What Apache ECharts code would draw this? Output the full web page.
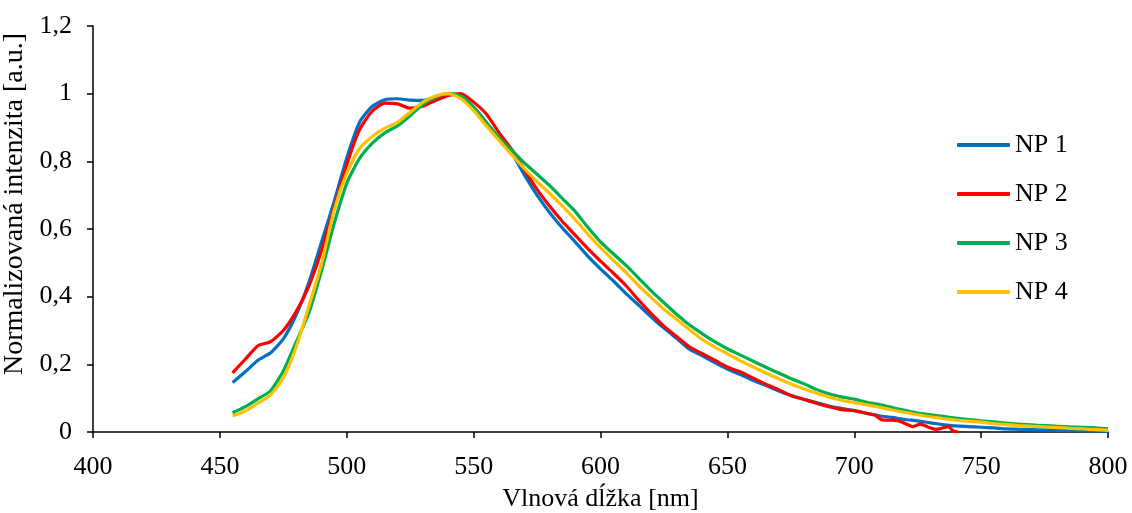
<!DOCTYPE html>
<html>
<head>
<meta charset="utf-8">
<script src="https://cdn.jsdelivr.net/npm/echarts@6/dist/echarts.min.js"></script>
<style>html,body{margin:0;padding:0;background:#fff;}#c{width:1132px;height:513px;}</style>
</head>
<body>
<div id="c"></div>
<script>
// Wavelengths (nm) shared by NP1, NP3, NP4
const wavelengths = [455,460,465,470,475,480,485,490,495,500,505,510,515,520,525,530,535,540,545,550,555,560,565,570,575,580,585,590,595,600,605,610,615,620,625,630,635,640,645,650,655,660,665,670,675,680,685,690,695,700,705,710,715,720,725,730,735,740,745,750,755,760,765,770,775,780,785,790,795,800];

const np1 = [0.146,0.178,0.212,0.234,0.275,0.345,0.44,0.56,0.68,0.81,0.915,0.962,0.982,0.985,0.981,0.980,0.990,1.0,0.99,0.96,0.915,0.868,0.825,0.76,0.70,0.648,0.603,0.562,0.52,0.482,0.447,0.41,0.375,0.34,0.307,0.277,0.245,0.226,0.205,0.186,0.17,0.153,0.138,0.122,0.108,0.097,0.087,0.077,0.070,0.063,0.055,0.048,0.043,0.037,0.033,0.027,0.022,0.018,0.016,0.014,0.012,0.009,0.008,0.007,0.006,0.005,0.004,0.004,0.003,0.002];

const np3 = [0.057,0.075,0.098,0.122,0.18,0.265,0.35,0.475,0.615,0.735,0.808,0.853,0.884,0.905,0.935,0.968,0.99,1.0,0.993,0.96,0.915,0.87,0.833,0.795,0.762,0.728,0.69,0.652,0.605,0.562,0.527,0.493,0.455,0.417,0.382,0.348,0.317,0.291,0.267,0.246,0.228,0.21,0.192,0.175,0.158,0.143,0.126,0.113,0.104,0.097,0.088,0.081,0.072,0.064,0.056,0.051,0.046,0.041,0.037,0.033,0.030,0.026,0.023,0.021,0.019,0.017,0.015,0.014,0.012,0.009];

const np4 = [0.047,0.062,0.085,0.11,0.16,0.25,0.37,0.495,0.655,0.765,0.838,0.873,0.898,0.915,0.945,0.975,0.993,1.0,0.985,0.95,0.905,0.862,0.82,0.778,0.74,0.705,0.668,0.628,0.585,0.545,0.508,0.472,0.433,0.397,0.363,0.333,0.303,0.274,0.251,0.231,0.211,0.193,0.175,0.158,0.142,0.128,0.115,0.103,0.094,0.087,0.08,0.073,0.065,0.058,0.051,0.045,0.04,0.035,0.032,0.029,0.025,0.022,0.019,0.017,0.015,0.013,0.011,0.009,0.007,0.005];

// NP2 has its own wavelength grid (noisy tail ends near 740 nm)
const wavelengthsNp2 = [455,460,465,470,475,480,485,490,495,500,505,510,515,520,525,530,535,540,545,550,555,560,565,570,575,580,585,590,595,600,605,610,615,620,625,630,635,640,645,650,655,660,665,670,675,680,685,690,695,700,705,708,711,715,718,723,726,729,732,734,737,739,741];
const np2 = [0.175,0.215,0.255,0.267,0.300,0.355,0.43,0.535,0.66,0.79,0.893,0.948,0.972,0.970,0.957,0.963,0.980,0.995,1.0,0.975,0.94,0.885,0.835,0.775,0.717,0.667,0.622,0.582,0.542,0.505,0.47,0.433,0.39,0.35,0.313,0.282,0.252,0.232,0.212,0.192,0.178,0.16,0.142,0.126,0.108,0.097,0.085,0.075,0.066,0.063,0.055,0.050,0.036,0.035,0.032,0.016,0.023,0.015,0.008,0.010,0.016,0.003,0.0];

const seriesNames = ['NP 1','NP 2','NP 3','NP 4'];
const seriesColors = ['#0070C0','#FF0000','#00B050','#FFC000'];
const xTicks = {min:400, max:800, interval:50};
const yTicks = {min:0, max:1.2, interval:0.2};

function pairs(xs, ys){ return xs.map((x,i)=>[x, ys[i]]); }
const seriesData = [pairs(wavelengths,np1), pairs(wavelengthsNp2,np2), pairs(wavelengths,np3), pairs(wavelengths,np4)];

const font = 'Liberation Serif';
const chart = echarts.init(document.getElementById('c'), null, {renderer:'canvas'});
chart.setOption({
  animation:false,
  backgroundColor:'#fff',
  grid:{left:93, right:24, top:26, bottom:81, containLabel:false, outerBoundsMode:'none'},
  legend:{
    orient:'vertical', left:952, top:127, itemWidth:53, itemHeight:4, itemGap:23,
    icon:'roundRect',
    textStyle:{fontFamily:font, fontSize:26, color:'#000', padding:[0,0,0,0]},
    data:seriesNames
  },
  xAxis:{
    type:'value', min:xTicks.min, max:xTicks.max, interval:xTicks.interval,
    name:'Vlnová dĺžka [nm]', nameLocation:'middle', nameGap:54,
    nameTextStyle:{fontFamily:font, fontSize:26, color:'#000'},
    axisLine:{show:true, onZero:false, lineStyle:{color:'#000', width:1.5}},
    axisTick:{show:true, inside:false, length:6, lineStyle:{color:'#000', width:1.5}},
    axisLabel:{fontFamily:font, fontSize:26, color:'#000', margin:22},
    splitLine:{show:false}
  },
  yAxis:{
    type:'value', min:yTicks.min, max:yTicks.max, interval:yTicks.interval,
    name:'Normalizovaná intenzita [a.u.]', nameLocation:'middle', nameGap:52,
    nameTextStyle:{fontFamily:font, fontSize:28, color:'#000', padding:[0,0,0,50]},
    axisLine:{show:true, lineStyle:{color:'#000', width:1.5}},
    axisTick:{show:true, inside:false, length:6, lineStyle:{color:'#000', width:1.5}},
    axisLabel:{fontFamily:font, fontSize:26, color:'#000', margin:21,
      formatter:v=>String(Math.round(v*10)/10).replace('.',',')},
    splitLine:{show:false}
  },
  series: seriesNames.map((n,i)=>({
    name:n, type:'line', data:seriesData[i], showSymbol:false, smooth:0.2,
    color:seriesColors[i],
    lineStyle:{color:seriesColors[i], width:3.2},
    clip:true
  }))
});
</script>
</body>
</html>
